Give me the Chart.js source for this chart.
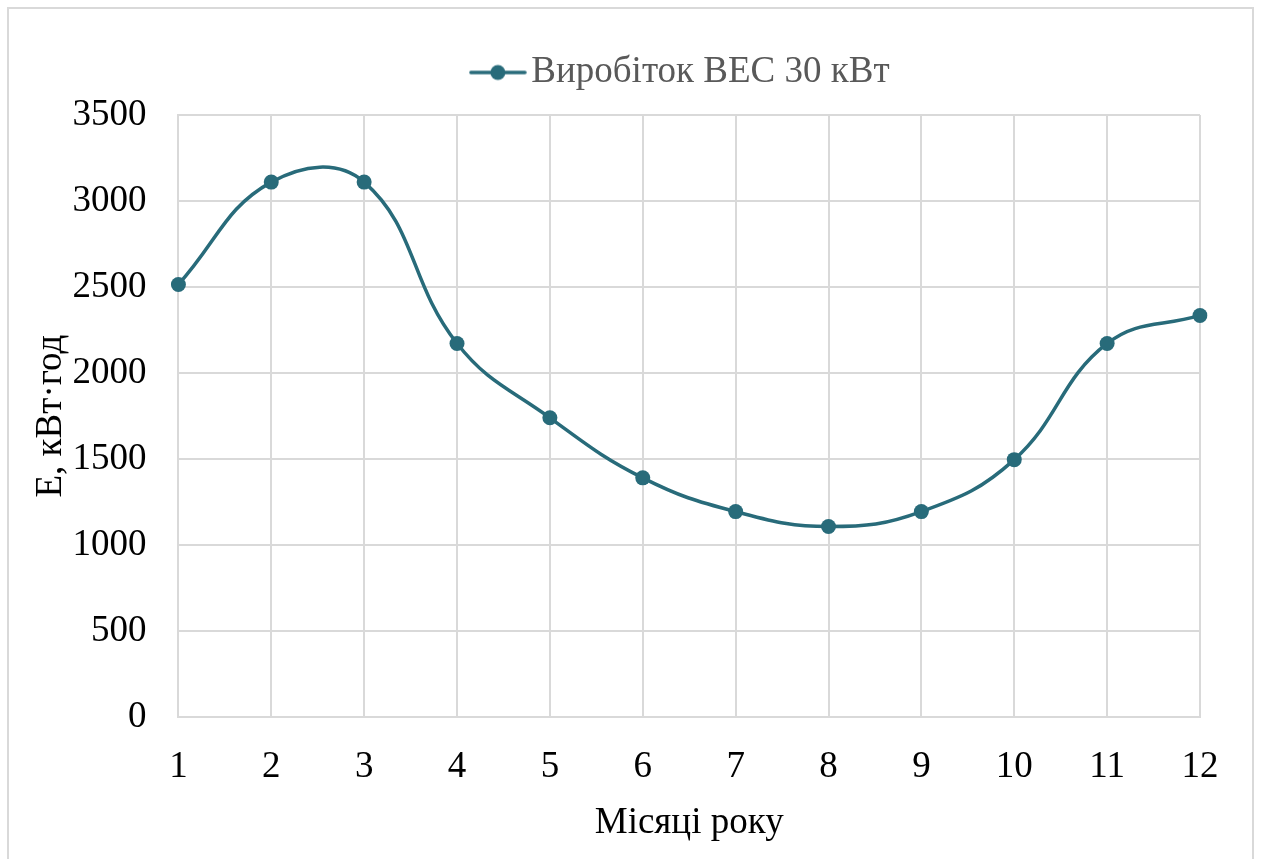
<!DOCTYPE html>
<html lang="uk">
<head>
  <meta charset="UTF-8">
  <title>Виробіток ВЕС</title>
  <script src="https://cdn.jsdelivr.net/npm/chart.js@4/dist/chart.umd.min.js"></script>
  <style>
    html, body { margin: 0; padding: 0; overflow: hidden; background: #fff; }
    #wrap { position: relative; width: 1262px; height: 859px; }
    #frame { position: absolute; left: 7px; top: 7px; width: 1247px; height: 900px; border: 2px solid #d9d9d9; box-sizing: border-box; }
    #cChart { position: absolute; left: 0; top: 0; }
  </style>
</head>
<body>
<div id="wrap">
  <div id="frame"></div>
  <canvas id="cChart" width="1262" height="859"></canvas>
</div>
<script>
const months = ['1', '2', '3', '4', '5', '6', '7', '8', '9', '10', '11', '12'];
const output = [2515, 3110, 3110, 2172, 1740, 1391, 1195, 1108, 1195, 1497, 2172, 2335];
const yTicks = [0, 500, 1000, 1500, 2000, 2500, 3000, 3500];

const lineColor = '#286b7a';
const serif = "'Liberation Serif', 'Times New Roman', serif";

// legend marker: short line with a dot, like Excel
const marker = document.createElement('canvas');
marker.width = 58; marker.height = 18;
const mc = marker.getContext('2d');
mc.strokeStyle = lineColor;
mc.lineWidth = 3.5;
mc.lineCap = 'round';
mc.beginPath(); mc.moveTo(2, 9); mc.lineTo(56, 9); mc.stroke();
mc.fillStyle = lineColor;
mc.beginPath(); mc.arc(29, 9, 7.5, 0, Math.PI * 2); mc.fill();

// extra room below the legend, and center it over the plot
const legendGap = {
  id: 'legendGap',
  beforeInit(chart) {
    const fit = chart.legend.fit;
    chart.legend.fit = function () {
      fit.bind(chart.legend)();
      this.height += 14;
    };
  },
  afterLayout(chart) {
    const lg = chart.legend, ca = chart.chartArea;
    const shift = (ca.left + ca.right) / 2 - 3 - (lg.left + lg.right) / 2;
    lg.left += shift;
    lg.right += shift;
  }
};

const data = {
  labels: months,
  datasets: [{
    label: 'Виробіток ВЕС 30 кВт',
    data: output,
    borderColor: lineColor,
    backgroundColor: lineColor,
    borderWidth: 3.5,
    pointRadius: 7.5,
    pointHoverRadius: 7.5,
    pointBackgroundColor: lineColor,
    pointBorderWidth: 0,
    tension: 0.42,
    fill: false
  }]
};

const config = {
  type: 'line',
  data: data,
  plugins: [legendGap],
  options: {
    responsive: false,
    animation: false,
    events: [],
    layout: { padding: { left: 29, right: 62, top: 50, bottom: 14 } },
    plugins: {
      legend: {
        position: 'top',
        labels: {
          usePointStyle: true,
          pointStyleWidth: 30,
          boxHeight: 18,
          padding: 4,
          color: '#595959',
          font: { family: serif, size: 37 },
          generateLabels: function (chart) {
            return [{
              text: chart.data.datasets[0].label,
              pointStyle: marker,
              fillStyle: lineColor,
              strokeStyle: lineColor,
              lineWidth: 0,
              datasetIndex: 0,
              fontColor: '#595959'
            }];
          }
        }
      },
      tooltip: { enabled: false }
    },
    scales: {
      x: {
        offset: false,
        grid: { color: '#d9d9d9', lineWidth: 2, drawTicks: false },
        border: { color: '#d9d9d9', width: 2 },
        ticks: { color: '#000', padding: 28, font: { family: serif, size: 37 }, maxRotation: 0 },
        title: { display: true, text: 'Місяці року', color: '#000', font: { family: serif, size: 37 }, padding: { top: -17, bottom: 0 } }
      },
      y: {
        min: 0,
        max: 3500,
        afterBuildTicks: function (axis) { axis.ticks = yTicks.map(v => ({ value: v })); },
        grid: { color: '#d9d9d9', lineWidth: 2, drawTicks: false },
        border: { color: '#d9d9d9', width: 2 },
        ticks: { color: '#000', padding: 32, font: { family: serif, size: 37 }, callback: v => String(v) },
        title: { display: true, text: 'E, кВт·год', color: '#000', font: { family: serif, size: 37 }, padding: { top: 0, bottom: -33 } }
      }
    }
  }
};

const cChart = new Chart(document.getElementById('cChart'), config);
</script>
</body>
</html>
